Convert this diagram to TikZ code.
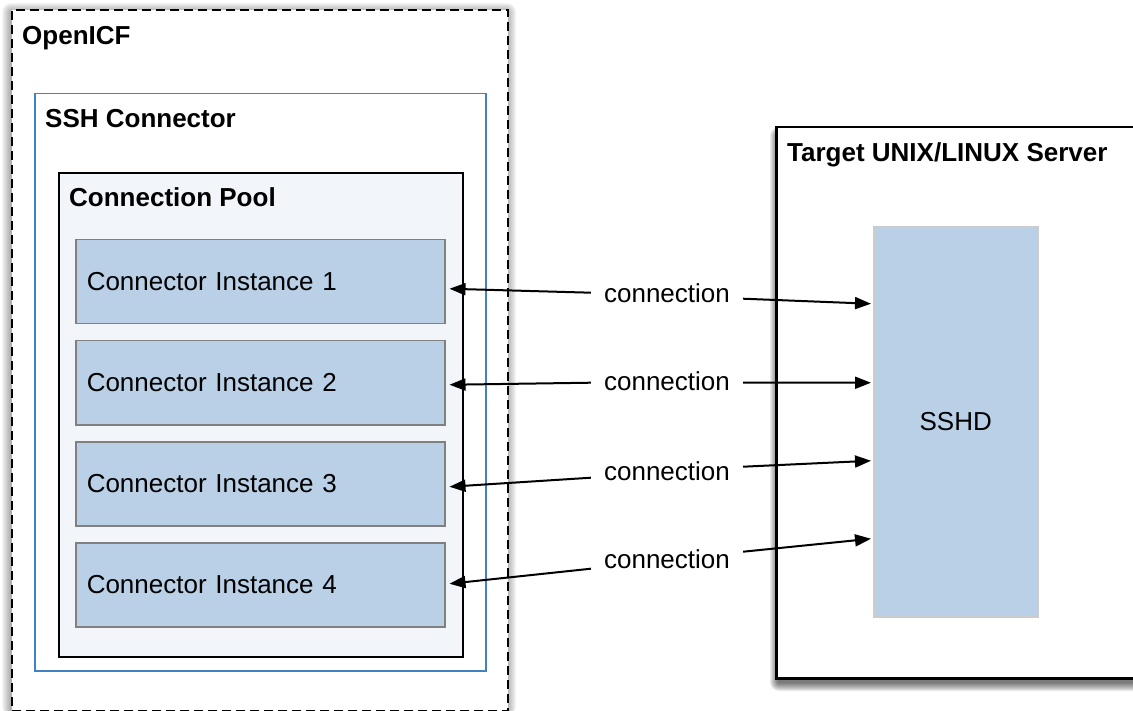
\documentclass[tikz,border=0pt]{standalone}
\usepackage{fontspec}
\setmainfont{Liberation Sans}
\usetikzlibrary{arrows.meta,calc}
\definecolor{instfill}{RGB}{185,208,230}
\definecolor{instdraw}{RGB}{128,128,128}
\definecolor{poolfill}{RGB}{242,245,250}
\definecolor{sshblue}{RGB}{66,130,196}
\definecolor{sshddraw}{RGB}{204,204,204}
\tikzset{
  box/.style={anchor=north west, inner sep=0pt},
  title/.style={anchor=base west, inner sep=0pt, font=\fontsize{26}{31}\selectfont\bfseries},
  inst/.style={box, fill=instfill, draw=instdraw, line width=1.5pt, minimum width=369pt, minimum height=84pt,
               text width=347pt, inner xsep=11pt, align=left},
  conn/.style={anchor=base, inner xsep=13pt, inner ysep=0pt},
  arr/.style={line width=2pt, -{Triangle[length=16pt,width=12pt]}},
}
\begin{document}
\begin{tikzpicture}[x=1pt,y=-1pt, font=\fontsize{26}{31}\selectfont]
\useasboundingbox (0,0) rectangle (1133,711);
% shadows
\foreach \s in {1,...,9}{
  \fill[black, opacity=0.04, rounded corners=\s pt] (11-\s,9-\s+3) rectangle (507+\s,715);
  \fill[black, opacity=0.08, rounded corners=\s pt] (775-\s+4,126-\s+10) rectangle (1160,677+\s+5);
}
% containers
\node[box, draw=black, fill=white, line width=2pt, dash pattern=on 9pt off 5pt, minimum width=496pt, minimum height=701pt] (openicf) at (11,9) {};
\node[title] (openicflbl) at (22,45) {OpenICF};
\node[box, draw=sshblue, fill=white, line width=1.5pt, minimum width=451pt, minimum height=577pt] (ssh) at (34,93) {};
\node[title] (sshlbl) at (45,128) {SSH Connector};
\node[box, draw=black, fill=poolfill, line width=2pt, minimum width=404pt, minimum height=484pt] (pool) at (58,172) {};
\node[title] (poollbl) at (69,207) {Connection Pool};
\node[inst] (i1) at (75,239) {Connector Instance 1};
\node[inst] (i2) at (75,340) {Connector Instance 2};
\node[inst] (i3) at (75,441) {Connector Instance 3};
\node[inst] (i4) at (75,542) {Connector Instance 4};
% server
\node[box, draw=black, fill=white, line width=2.5pt, minimum width=390pt, minimum height=551pt] (srv) at (775,126) {};
\node[title] (srvlbl) at (787,162) {Target UNIX/LINUX Server};
\node[box, draw=sshddraw, fill=instfill, line width=1.5pt, minimum width=164pt, minimum height=390pt] (sshd) at (873,226) {};
\node (sshdlbl) at (sshd.center) {SSHD};
% connection labels
\node[conn] (c1) at (667,303) {connection};
\node[conn] (c2) at (667,390) {connection};
\node[conn] (c3) at (667,480) {connection};
\node[conn] (c4) at (667,568) {connection};
% arrows
\draw[arr] ($(c1.west)+(0,-1)$) -- ($(i1.east)+(4,7)$);
\draw[arr] ($(c2.west)+(0,2)$) -- ($(i2.east)+(4,2)$);
\draw[arr] ($(c3.west)+(0,7)$) -- ($(i3.east)+(4,3)$);
\draw[arr] ($(c4.west)+(0,10)$) -- ($(i4.east)+(4,-1)$);
\draw[arr] ($(c1.east)+(0,5)$) -- ($(sshd.west)+(-2,-118)$);
\draw[arr] ($(c2.east)+(0,2)$) -- ($(sshd.west)+(-2,-39)$);
\draw[arr] ($(c3.east)+(0,-4)$) -- ($(sshd.west)+(-2,39)$);
\draw[arr] ($(c4.east)+(0,-7)$) -- ($(sshd.west)+(-2,117)$);
\end{tikzpicture}
\end{document}
